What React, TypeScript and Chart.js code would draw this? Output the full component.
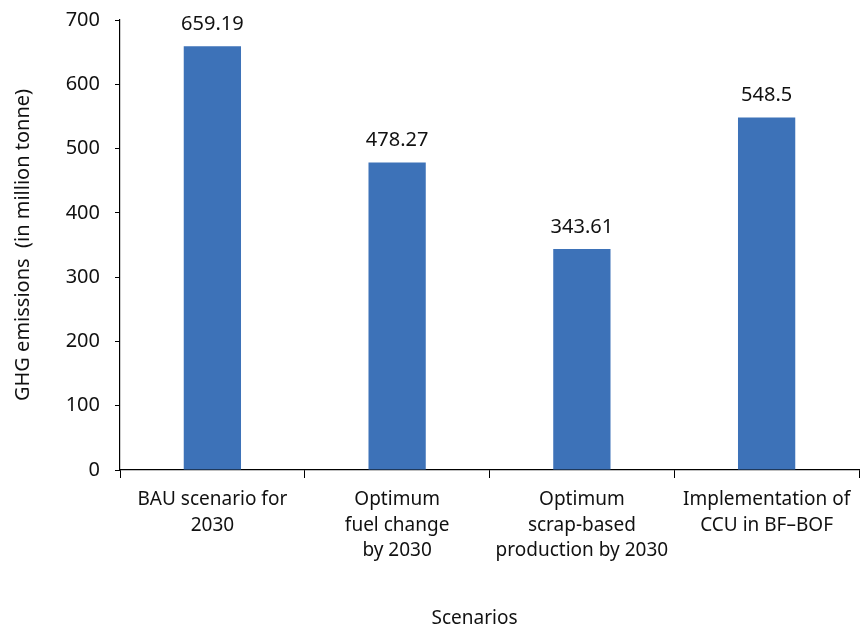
import React, { useEffect, useRef } from "react";
import { Chart, registerables } from "chart.js";

Chart.register(...registerables);

const scenarios: string[][] = [
  ["BAU scenario for", "2030"],
  ["Optimum", "fuel change", "by 2030"],
  ["Optimum", "scrap-based", "production by 2030"],
  ["Implementation of", "CCU in BF–BOF"],
];
const emissions: number[] = [659.19, 478.27, 343.61, 548.5];
const valueLabels: string[] = ["659.19", "478.27", "343.61", "548.5"];
const yTicks: number[] = [0, 100, 200, 300, 400, 500, 600, 700];

const FONT = "'Noto Sans', sans-serif";
const INK = "#111111";
const BAR = "#3D72B8";

// Writes each bar's value centred above it.
const barValues = {
  id: "barValues",
  afterDatasetsDraw(chart: Chart) {
    const { ctx } = chart;
    const meta = chart.getDatasetMeta(0);
    ctx.save();
    ctx.font = `20px ${FONT}`;
    ctx.fillStyle = INK;
    ctx.textAlign = "center";
    ctx.textBaseline = "middle";
    meta.data.forEach((bar: any, i: number) => {
      ctx.fillText(valueLabels[i], bar.x, bar.y - 22);
    });
    ctx.restore();
  },
};

// Axis title under the category labels.
const xTitle = {
  id: "xTitle",
  afterDraw(chart: Chart) {
    const { ctx, chartArea } = chart;
    ctx.save();
    ctx.font = `19px ${FONT}`;
    ctx.fillStyle = INK;
    ctx.textAlign = "center";
    ctx.textBaseline = "middle";
    const cx = (chartArea.left + chartArea.right) / 2 - 15;
    ctx.fillText("Scenarios", cx, chart.height - 12);
    ctx.restore();
  },
};

export default function App() {
  const canvasRef = useRef<HTMLCanvasElement | null>(null);

  useEffect(() => {
    document.body.style.margin = "0";
    const canvas = canvasRef.current;
    if (!canvas) return;
    const chart = new Chart(canvas, {
      type: "bar",
      data: {
        labels: scenarios,
        datasets: [
          {
            data: emissions,
            backgroundColor: BAR,
            borderWidth: 0,
            categoryPercentage: 1,
            barPercentage: 0.31,
          },
        ],
      },
      options: {
        responsive: false,
        animation: false,
        layout: { padding: { top: 20, right: 1, left: 0, bottom: 0 } },
        plugins: {
          legend: { display: false },
          tooltip: { enabled: false },
        },
        scales: {
          x: {
            afterFit: (s: any) => {
              s.height = 161;
            },
            grid: {
              offset: true,
              drawOnChartArea: false,
              drawTicks: true,
              tickLength: 8,
              color: "#000",
              lineWidth: 1,
            },
            border: { display: true, color: "#000", width: 1.2 },
            ticks: {
              color: INK,
              font: { family: FONT, size: 19, lineHeight: 1.34 },
              padding: 9,
              maxRotation: 0,
              autoSkip: false,
            },
          },
          y: {
            min: 0,
            max: 700,
            afterFit: (s: any) => {
              s.width = 120;
              s.paddingTop = 0;
              s.paddingBottom = 0;
            },
            afterBuildTicks: (s: any) => {
              s.ticks = yTicks.map((v) => ({ value: v }));
            },
            grid: {
              drawOnChartArea: false,
              drawTicks: true,
              tickLength: 5,
              color: "#000",
              lineWidth: 1,
            },
            border: { display: true, color: "#000", width: 1.2 },
            ticks: {
              color: INK,
              font: { family: FONT, size: 20 },
              padding: 15,
            },
            title: {
              display: true,
              text: "GHG emissions  (in million tonne)",
              color: INK,
              font: { family: FONT, size: 20 },
              padding: { top: 11, bottom: 0 },
            },
          },
        },
      },
      plugins: [barValues, xTitle],
    });
    return () => chart.destroy();
  }, []);

  return (
    <div style={{ width: 860, height: 631, background: "#fff" }}>
      <canvas ref={canvasRef} width={860} height={631} style={{ display: "block" }} />
    </div>
  );
}
